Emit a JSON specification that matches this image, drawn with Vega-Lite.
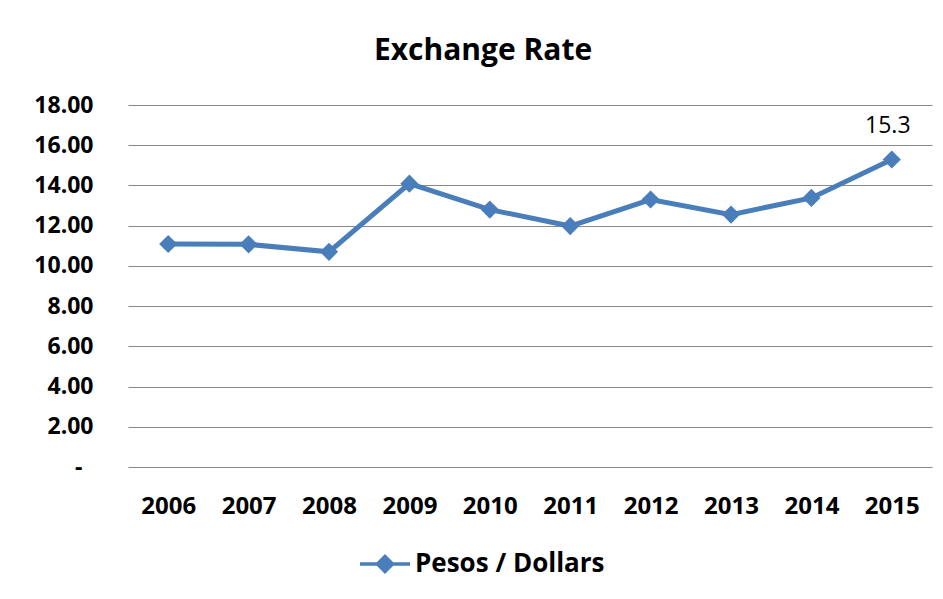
{
  "$schema": "https://vega.github.io/schema/vega-lite/v6.json",
  "width": 804,
  "height": 362,
  "autosize": {"type": "none"},
  "padding": {"left": 128, "top": 105, "right": 11, "bottom": 132},
  "background": "white",
  "config": {
    "font": "Open Sans",
    "view": {"stroke": null}
  },
  "title": {
    "text": "Exchange Rate",
    "font": "Open Sans",
    "fontSize": 30,
    "fontWeight": "bold",
    "color": "#000000",
    "anchor": "middle",
    "dx": -47,
    "offset": 28
  },
  "data": {
    "values": [
      {"year": "2006", "rate": 11.09, "series": "Pesos / Dollars"},
      {"year": "2007", "rate": 11.07, "series": "Pesos / Dollars"},
      {"year": "2008", "rate": 10.70, "series": "Pesos / Dollars"},
      {"year": "2009", "rate": 14.09, "series": "Pesos / Dollars"},
      {"year": "2010", "rate": 12.80, "series": "Pesos / Dollars"},
      {"year": "2011", "rate": 11.98, "series": "Pesos / Dollars"},
      {"year": "2012", "rate": 13.30, "series": "Pesos / Dollars"},
      {"year": "2013", "rate": 12.55, "series": "Pesos / Dollars"},
      {"year": "2014", "rate": 13.38, "series": "Pesos / Dollars"},
      {"year": "2015", "rate": 15.29, "series": "Pesos / Dollars"}
    ]
  },
  "encoding": {
    "x": {
      "field": "year",
      "type": "ordinal",
      "scale": {"type": "point", "padding": 0.5},
      "axis": {
        "title": null,
        "domain": false,
        "ticks": false,
        "labelAngle": 0,
        "labelFont": "Open Sans",
        "labelFontSize": 24,
        "labelFontWeight": "bold",
        "labelColor": "#000000",
        "labelPadding": 27
      }
    },
    "y": {
      "field": "rate",
      "type": "quantitative",
      "scale": {"domain": [0, 18], "nice": false},
      "axis": {
        "title": null,
        "values": [0, 2, 4, 6, 8, 10, 12, 14, 16, 18],
        "labelExpr": "datum.value == 0 ? '-' : format(datum.value, '.2f')",
        "domain": false,
        "ticks": false,
        "grid": true,
        "gridColor": "#888888",
        "gridWidth": 1,
        "labelFont": "Open Sans",
        "labelFontSize": 23,
        "labelFontWeight": "bold",
        "labelColor": "#000000",
        "labelPadding": {"condition": {"test": "datum.value == 0", "value": 46}, "value": 35}
      }
    }
  },
  "layer": [
    {
      "mark": {"type": "line", "strokeWidth": 5},
      "encoding": {
        "color": {
          "field": "series",
          "type": "nominal",
          "scale": {"range": ["#4A7EBB"]},
          "legend": {
            "title": null,
            "orient": "none",
            "legendX": 230,
            "legendY": 432,
            "symbolType": "M-1,0H1M0,-0.3L0.3,0L0,0.3L-0.3,0Z",
            "symbolSize": 2500,
            "symbolStrokeWidth": 3.5,
            "symbolFillColor": "#4A7EBB",
            "symbolStrokeColor": "#4A7EBB",
            "labelFont": "Open Sans",
            "labelFontSize": 26,
            "labelFontWeight": "bold",
            "labelColor": "#000000",
            "labelOffset": 3,
            "labelLimit": 400
          }
        }
      }
    },
    {
      "mark": {"type": "point", "shape": "diamond", "filled": true, "size": 330, "opacity": 1, "color": "#4A7EBB"}
    },
    {
      "transform": [{"filter": "datum.year == '2015'"}],
      "mark": {"type": "text", "dy": -27, "baseline": "alphabetic", "align": "center", "font": "Open Sans", "fontSize": 23, "color": "#000000", "dx": -4},
      "encoding": {
        "text": {"field": "rate", "type": "quantitative", "format": ".1f"}
      }
    }
  ]
}
